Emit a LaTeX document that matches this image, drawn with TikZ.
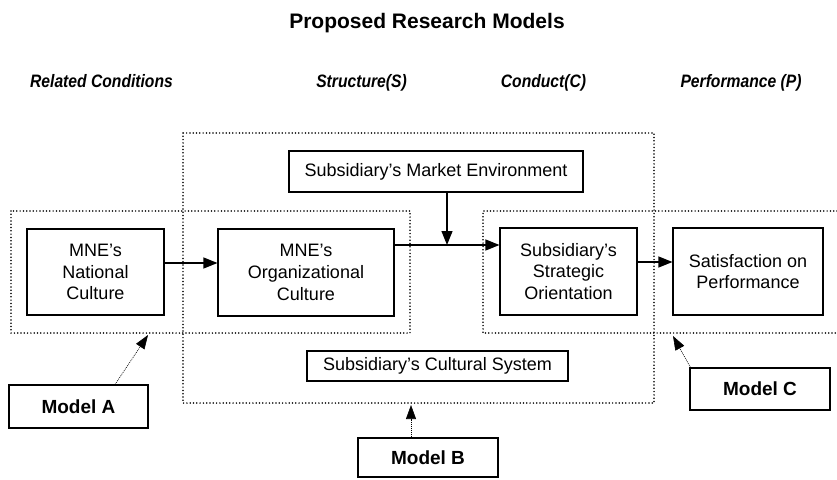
\documentclass[tikz,border=0pt]{standalone}
\usepackage{fontspec}
\setmainfont{Liberation Sans}
\newfontfamily\condfont[FakeStretch=0.87]{Liberation Sans}
\usetikzlibrary{arrows.meta}
\begin{document}
\begin{tikzpicture}[x=1pt,y=-1pt,
  box/.style={draw,line width=1.1pt,align=center,inner sep=0pt,font=\fontsize{18}{21.7}\selectfont},
  modelbox/.style={draw,line width=1.1pt,inner sep=0pt,font=\fontsize{19}{22}\selectfont\bfseries},
  hdr/.style={font=\condfont\fontsize{18}{20}\selectfont\bfseries\itshape,anchor=base},
  dotbox/.style={line width=1.7pt,dash pattern=on 0pt off 3.3pt,line cap=round},
  arr/.style={line width=1.2pt,-{Triangle[length=14pt,width=11pt]}},
  marr/.style={line width=0.6pt,dash pattern=on 1pt off 1pt,-{Triangle[length=14pt,width=10pt]}}]
\useasboundingbox (0,0) rectangle (837,479);
% title and headers
\node[anchor=base,font=\fontsize{21}{24}\selectfont\bfseries] (title) at (427,28) {Proposed Research Models};
\node[hdr] (h1) at (101.5,87) {Related Conditions};
\node[hdr] (h2) at (361.5,87) {Structure(S)};
\node[hdr] (h3) at (543.5,87) {Conduct(C)};
\node[hdr] (h4) at (741,87) {Performance (P)};
% dotted model regions
\draw[dotbox] (183,133) rectangle (654,403);
\draw[dotbox] (11,211) rectangle (410,333);
\draw[dotbox] (837,211) -- (483,211) -- (483,333) -- (837,333);
% boxes
\node[box,minimum width=137pt,minimum height=86pt] (nat) at (95.5,272) {MNE's\\National\\Culture};
\node[box,minimum width=176pt,minimum height=87pt] (org) at (306,272.5) {MNE's\\Organizational\\Culture};
\node[box,minimum width=294pt,minimum height=41pt] (mkt) at (436,171.5) {Subsidiary's Market Environment};
\node[box,minimum width=137pt,minimum height=87pt] (strat) at (568.5,271.5) {Subsidiary's\\Strategic\\Orientation};
\node[box,minimum width=150pt,minimum height=87pt] (sat) at (748,271.5) {Satisfaction on\\Performance};
\node[box,minimum width=261pt,minimum height=30pt] (cult) at (437.5,366) {Subsidiary's Cultural System};
\node[modelbox,minimum width=139pt,minimum height=43pt] (ma) at (78.5,406.5) {Model A};
\node[modelbox,minimum width=140pt,minimum height=39pt] (mb) at (428,457.5) {Model B};
\node[modelbox,minimum width=140pt,minimum height=42pt] (mc) at (760,389) {Model C};
% connectors
\coordinate (j) at (447,245);
\coordinate (n1) at ([yshift=9pt]nat.east);
\coordinate (s1) at ([yshift=9.5pt]strat.east);
\draw[arr] (n1) -- (n1 -| org.west);
\draw[arr] (org.east |- j) -- (strat.west |- j);
\draw[arr] (mkt.south -| j) -- (j);
\draw[arr] (s1) -- (s1 -| sat.west);
% model pointers
\coordinate (aEnd) at (148,335);
\coordinate (bEnd) at (411,405);
\coordinate (cEnd) at (673,336);
\draw[marr] ([xshift=36.5pt]ma.north) -- (aEnd);
\draw[marr] ([xshift=-17pt]mb.north) -- (bEnd);
\draw[marr] ([xshift=1pt]mc.north west) -- (cEnd);
\end{tikzpicture}
\end{document}
